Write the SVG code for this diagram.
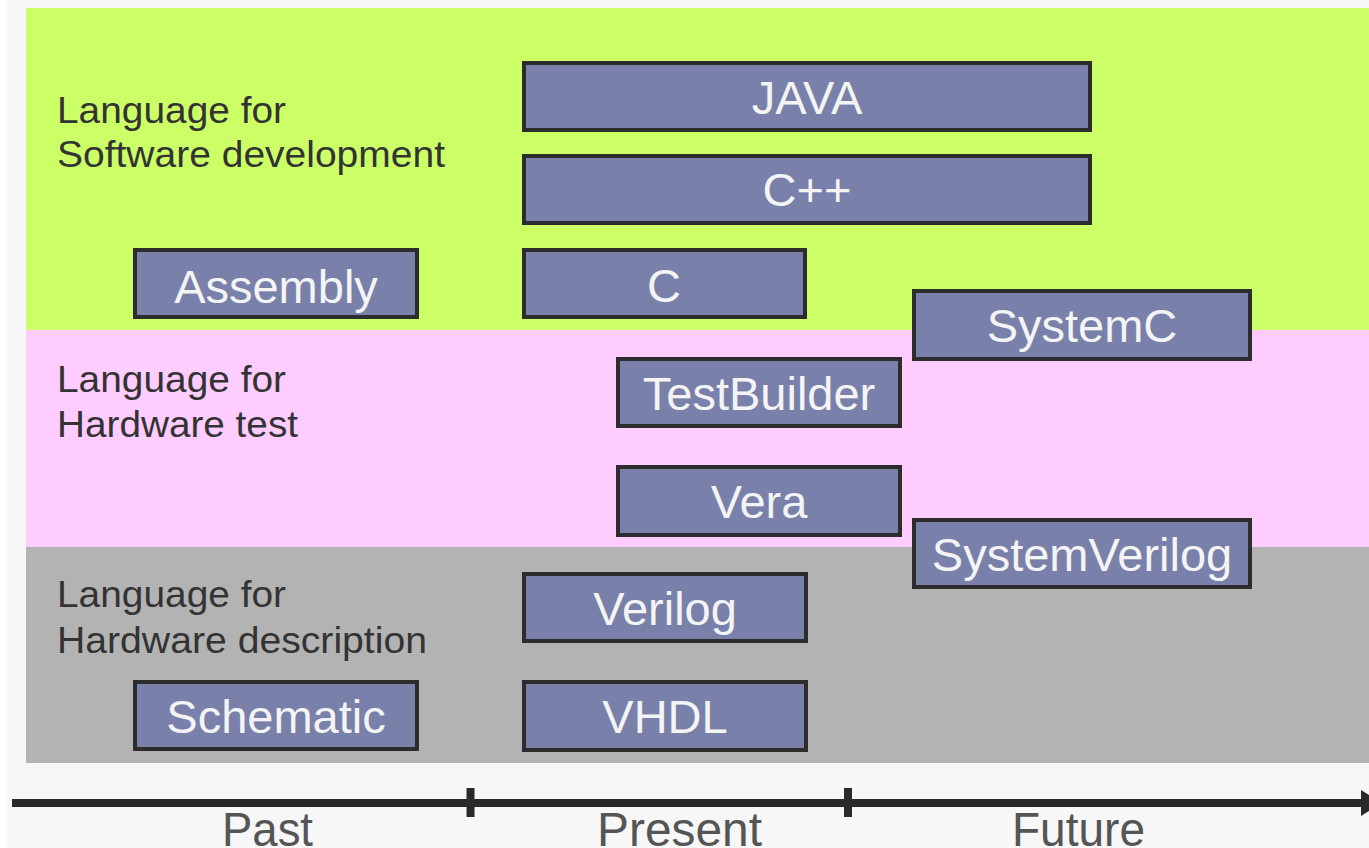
<svg xmlns="http://www.w3.org/2000/svg" width="1369" height="848" viewBox="0 0 1369 848">
  <style>
    .band-label { font-family: "Liberation Sans", Arial, sans-serif; font-size: 37px; fill: #333333; }
    .box rect { fill: #7981aa; stroke: #2c2c2c; stroke-width: 4; }
    .box text { font-family: "Liberation Sans", Arial, sans-serif; font-size: 47px; fill: #f4f4f4; text-anchor: middle; }
    .era { font-family: "Liberation Sans", Arial, sans-serif; font-size: 48px; fill: #555555; }
    .axis { stroke: #2a2a2a; }
  </style>

  <!-- page -->
  <rect x="0" y="0" width="1369" height="848" fill="#ffffff"/>
  <rect x="6" y="0" width="1363" height="848" fill="#f7f7f7"/>

  <!-- category bands -->
  <g id="band-software">
    <rect x="26" y="8" width="1343" height="322" fill="#ccff66"/>
    <text class="band-label" x="57" y="123" textLength="229" lengthAdjust="spacingAndGlyphs">Language for</text>
    <text class="band-label" x="57" y="167" textLength="388" lengthAdjust="spacingAndGlyphs">Software development</text>
  </g>
  <g id="band-test">
    <rect x="26" y="330" width="1343" height="217" fill="#ffccff"/>
    <text class="band-label" x="57" y="392" textLength="229" lengthAdjust="spacingAndGlyphs">Language for</text>
    <text class="band-label" x="57" y="437" textLength="241" lengthAdjust="spacingAndGlyphs">Hardware test</text>
  </g>
  <g id="band-description">
    <rect x="26" y="547" width="1343" height="216" fill="#b3b3b3"/>
    <text class="band-label" x="57" y="607" textLength="229" lengthAdjust="spacingAndGlyphs">Language for</text>
    <text class="band-label" x="57" y="653" textLength="370" lengthAdjust="spacingAndGlyphs">Hardware description</text>
  </g>

  <!-- language boxes -->
  <g id="java" class="box">
    <rect x="524" y="63" width="566" height="67"/>
    <text x="807" y="114">JAVA</text>
  </g>
  <g id="cpp" class="box">
    <rect x="524" y="156" width="566" height="67"/>
    <text x="807" y="206">C++</text>
  </g>
  <g id="assembly" class="box">
    <rect x="135" y="250" width="282" height="67"/>
    <text x="276" y="303">Assembly</text>
  </g>
  <g id="c" class="box">
    <rect x="524" y="250" width="281" height="67"/>
    <text x="664" y="302">C</text>
  </g>
  <g id="systemc" class="box">
    <rect x="914" y="291" width="336" height="68"/>
    <text x="1082" y="342">SystemC</text>
  </g>
  <g id="testbuilder" class="box">
    <rect x="618" y="359" width="282" height="67"/>
    <text x="759" y="410">TestBuilder</text>
  </g>
  <g id="vera" class="box">
    <rect x="618" y="467" width="282" height="68"/>
    <text x="759" y="518">Vera</text>
  </g>
  <g id="systemverilog" class="box">
    <rect x="914" y="520" width="336" height="67"/>
    <text x="1082" y="571">SystemVerilog</text>
  </g>
  <g id="verilog" class="box">
    <rect x="524" y="574" width="282" height="67"/>
    <text x="665" y="625">Verilog</text>
  </g>
  <g id="schematic" class="box">
    <rect x="135" y="682" width="282" height="67"/>
    <text x="276" y="733">Schematic</text>
  </g>
  <g id="vhdl" class="box">
    <rect x="524" y="682" width="282" height="68"/>
    <text x="665" y="733">VHDL</text>
  </g>

  <!-- time axis -->
  <g id="connectors">
    <line class="axis" x1="12" y1="803" x2="1364" y2="803" stroke-width="8"/>
    <line class="axis" x1="470.5" y1="788" x2="470.5" y2="817" stroke-width="8"/>
    <line class="axis" x1="848" y1="788" x2="848" y2="817" stroke-width="8"/>
    <polygon points="1361,790 1361,816 1382,803" fill="#2a2a2a"/>
  </g>

  <g id="eras">
    <text class="era" x="222" y="846" textLength="91" lengthAdjust="spacingAndGlyphs">Past</text>
    <text class="era" x="597" y="846" textLength="165" lengthAdjust="spacingAndGlyphs">Present</text>
    <text class="era" x="1012" y="846" textLength="133" lengthAdjust="spacingAndGlyphs">Future</text>
  </g>
</svg>
